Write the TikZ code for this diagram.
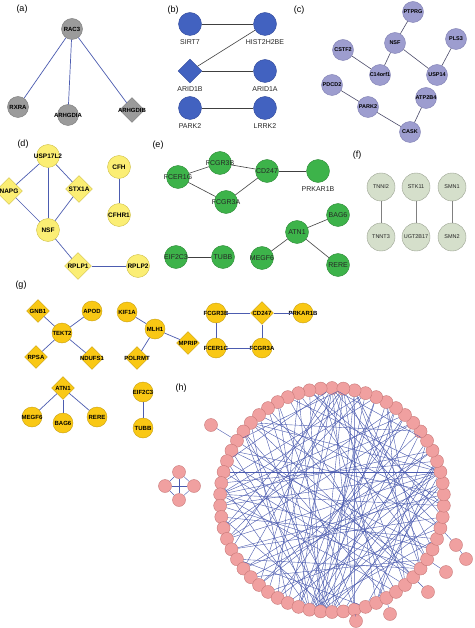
\documentclass[tikz,border=0pt]{standalone}
\usepackage{fontspec}
\setmainfont{Liberation Sans}
\usetikzlibrary{shapes.geometric}

\definecolor{agray}{HTML}{9B9B9B}
\definecolor{agrayd}{HTML}{7A7A7A}
\definecolor{bblue}{HTML}{4262C0}
\definecolor{bblued}{HTML}{30489A}
\definecolor{clav}{HTML}{9D9DCF}
\definecolor{clavd}{HTML}{7F7FB3}
\definecolor{dyel}{HTML}{FBEE74}
\definecolor{dyeld}{HTML}{CFC04A}
\definecolor{egreen}{HTML}{3DB34A}
\definecolor{egreend}{HTML}{2D8A36}
\definecolor{fsage}{HTML}{D5DFCB}
\definecolor{fsaged}{HTML}{9CA393}
\definecolor{ggold}{HTML}{F9C814}
\definecolor{ggoldd}{HTML}{C9A010}
\definecolor{hpink}{HTML}{F0A0A0}
\definecolor{hpinkd}{HTML}{C87878}
\definecolor{linkblue}{HTML}{4C5CB0}
\definecolor{linkgray}{HTML}{404040}

\begin{document}
\begin{tikzpicture}[x=1pt, y=-1pt,
    panel/.style={font=\fontsize{9}{9}\selectfont},
    boldtxt/.style={font=\bfseries\fontsize{#1}{#1}\selectfont, text=black},
    plaintxt/.style={font=\fontsize{#1}{#1}\selectfont, text=black!85},
    pa/.style={circle, draw=agrayd, fill=agray, minimum size=21pt, inner sep=0pt, label={[boldtxt=6]center:#1}},
    pad/.style={pa=#1, diamond, shape aspect=1, minimum size=25pt},
    pb/.style={circle, draw=bblued, fill=bblue, minimum size=23pt, inner sep=0pt, label={[plaintxt=7]below:#1}},
    pbd/.style={pb=#1, diamond, shape aspect=1, minimum size=24pt},
    pc/.style={circle, draw=clavd, fill=clav, minimum size=21pt, inner sep=0pt, label={[boldtxt=5.5]center:#1}},
    pd/.style={circle, draw=dyeld, fill=dyel, minimum size=23pt, inner sep=0pt, label={[boldtxt=6.5]center:#1}},
    pdd/.style={pd=#1, diamond, shape aspect=1, minimum size=27pt},
    pe/.style={circle, draw=egreend, fill=egreen, minimum size=23pt, inner sep=0pt, label={[plaintxt=7]center:#1}},
    pf/.style={circle, draw=fsaged, fill=fsage, minimum size=28pt, inner sep=0pt, label={[plaintxt=5.5]center:#1}},
    pg/.style={circle, draw=ggoldd, fill=ggold, minimum size=20pt, inner sep=0pt, label={[boldtxt=6]center:#1}},
    pgd/.style={pg=#1, diamond, shape aspect=1, minimum size=23pt},
    ph/.style={circle, draw=hpinkd, fill=hpink, minimum size=13pt, inner sep=0pt},
    blink/.style={draw=linkblue, line width=0.7pt},
    glink/.style={draw=linkgray, line width=0.6pt},
    hlink/.style={draw=linkblue, line width=0.4pt}]

    \useasboundingbox[fill=white] (0,0) rectangle (474,628);

    % (a)
    \node[panel] (lab_a) at (22,9) {(a)};
    \node[pa=RAC3] (a_rac3) at (72,29) {};
    \node[pa=RXRA] (a_rxra) at (18,107) {};
    \node[pa=ARHGDIA] (a_arhgdia) at (68,115) {};
    \node[pad=ARHGDIB] (a_arhgdib) at (132,110) {};
    \foreach \t in {a_rxra, a_arhgdia, a_arhgdib}
        \draw[blink] (a_rac3) -- (\t);

    % (b)
    \node[panel] (lab_b) at (173,10) {(b)};
    \node[pb=SIRT7] (b_sirt7) at (190,24) {};
    \node[pb=HIST2H2BE] (b_hist) at (265,24) {};
    \node[pbd=ARID1B] (b_arid1b) at (190,71) {};
    \node[pb=ARID1A] (b_arid1a) at (265,71) {};
    \node[pb=PARK2] (b_park2) at (190,108) {};
    \node[pb=LRRK2] (b_lrrk2) at (265,108) {};
    \draw[glink] (b_sirt7) -- (b_hist);
    \draw[glink] (b_hist) -- (b_arid1b);
    \draw[glink] (b_arid1b) -- (b_arid1a);
    \draw[glink] (b_park2) -- (b_lrrk2);

    % (c)
    \node[panel] (lab_c) at (299,10) {(c)};
    \node[pc=PTPRG] (c_ptprg) at (413,12) {};
    \node[pc=NSF] (c_nsf) at (395,43) {};
    \node[pc=PLS3] (c_pls3) at (456,39) {};
    \node[pc=CSTF2] (c_cstf2) at (343,50) {};
    \node[pc=C14orf1] (c_c14orf1) at (380,75) {};
    \node[pc=USP14] (c_usp14) at (437,75) {};
    \node[pc=PDCD2] (c_pdcd2) at (332,85) {};
    \node[pc=PARK2] (c_park2) at (368,107) {};
    \node[pc=ATP2B4] (c_atp2b4) at (426,98) {};
    \node[pc=CASK] (c_cask) at (410,132) {};
    \foreach \s/\t in {c_ptprg/c_nsf, c_nsf/c_c14orf1, c_nsf/c_usp14, c_usp14/c_pls3,
        c_cstf2/c_c14orf1, c_pdcd2/c_park2, c_park2/c_cask, c_cask/c_atp2b4}
        \draw[glink, draw=clavd!60!black] (\s) -- (\t);

    % (d)
    \node[panel] (lab_d) at (23,144) {(d)};
    \node[pd=USP17L2] (d_usp17l2) at (48,156) {};
    \node[pdd=NAPG] (d_napg) at (9,191) {};
    \node[pdd=STX1A] (d_stx1a) at (79,189) {};
    \node[pd=NSF] (d_nsf) at (48,230) {};
    \node[pdd=RPLP1] (d_rplp1) at (78,266) {};
    \node[pd=RPLP2] (d_rplp2) at (138,266) {};
    \node[pd=CFH] (d_cfh) at (119,167) {};
    \node[pd=CFHR1] (d_cfhr1) at (119,215) {};
    \foreach \s/\t in {d_usp17l2/d_napg, d_usp17l2/d_stx1a, d_usp17l2/d_nsf, d_napg/d_nsf,
        d_stx1a/d_nsf, d_nsf/d_rplp1, d_rplp1/d_rplp2, d_cfh/d_cfhr1}
        \draw[blink] (\s) -- (\t);

    % (e)
    \node[panel] (lab_e) at (158,145) {(e)};
    \node[pe=FCER1G] (e_fcer1g) at (178,177) {};
    \node[pe=FCGR3B] (e_fcgr3b) at (220,163) {};
    \node[pe=CD247] (e_cd247) at (267,171) {};
    \node[pe={}, label={[plaintxt=7]below:PRKAR1B}] (e_prkar1b) at (318,171) {};
    \node[pe=FCGR3A] (e_fcgr3a) at (226,202) {};
    \node[pe=ATN1] (e_atn1) at (297,232) {};
    \node[pe=BAG6] (e_bag6) at (338,215) {};
    \node[pe=MEGF6] (e_megf6) at (262,258) {};
    \node[pe=RERE] (e_rere) at (338,265) {};
    \node[pe=EIF2C3] (e_eif2c3) at (176,257) {};
    \node[pe=TUBB] (e_tubb) at (223,257) {};
    \foreach \s/\t in {e_fcer1g/e_fcgr3b, e_fcgr3b/e_cd247, e_cd247/e_prkar1b, e_fcer1g/e_fcgr3a,
        e_fcgr3a/e_cd247, e_atn1/e_bag6, e_atn1/e_megf6, e_atn1/e_rere, e_eif2c3/e_tubb}
        \draw[glink] (\s) -- (\t);

    % (f)
    \node[panel] (lab_f) at (357,155) {(f)};
    \node[pf=TNNI2] (f_tnni2) at (381,187) {};
    \node[pf=STK11] (f_stk11) at (416,187) {};
    \node[pf=SMN1] (f_smn1) at (452,187) {};
    \node[pf=TNNT3] (f_tnnt3) at (381,237) {};
    \node[pf=UGT2B17] (f_ugt2b17) at (416,237) {};
    \node[pf=SMN2] (f_smn2) at (452,237) {};
    \draw[glink, draw=gray] (f_tnni2) -- (f_tnnt3);
    \draw[glink, draw=gray] (f_stk11) -- (f_ugt2b17);
    \draw[glink, draw=gray] (f_smn1) -- (f_smn2);

    % (g)
    \node[panel] (lab_g) at (21,285) {(g)};
    \node[pgd=GNB1] (g_gnb1) at (38,311) {};
    \node[pg=APOD] (g_apod) at (92,311) {};
    \node[pg=TEKT2] (g_tekt2) at (62,333) {};
    \node[pgd=RPSA] (g_rpsa) at (36,357) {};
    \node[pgd=NDUFS1] (g_ndufs1) at (92,358) {};
    \foreach \t in {g_gnb1, g_apod, g_rpsa, g_ndufs1}
        \draw[blink] (g_tekt2) -- (\t);
    \node[pg=KIF1A] (g_kif1a) at (127,312) {};
    \node[pg=MLH1] (g_mlh1) at (155,329) {};
    \node[pgd=MPRIP] (g_mprip) at (188,343) {};
    \node[pgd=POLRMT] (g_polrmt) at (137,358) {};
    \foreach \t in {g_kif1a, g_mprip, g_polrmt}
        \draw[blink] (g_mlh1) -- (\t);
    \node[pg=FCGR3B] (g_fcgr3b) at (216,313) {};
    \node[pgd=CD247] (g_cd247) at (262,313) {};
    \node[pg=PRKAR1B] (g_prkar1b) at (303,313) {};
    \node[pg=FCER1G] (g_fcer1g) at (216,348) {};
    \node[pg=FCGR3A] (g_fcgr3a) at (262,348) {};
    \foreach \s/\t in {g_fcgr3b/g_cd247, g_cd247/g_prkar1b, g_fcgr3b/g_fcer1g,
        g_fcer1g/g_fcgr3a, g_fcgr3a/g_cd247}
        \draw[blink] (\s) -- (\t);
    \node[pgd=ATN1] (g_atn1) at (63,388) {};
    \node[pg=MEGF6] (g_megf6) at (32,417) {};
    \node[pg=BAG6] (g_bag6) at (63,423) {};
    \node[pg=RERE] (g_rere) at (97,417) {};
    \foreach \t in {g_megf6, g_bag6, g_rere}
        \draw[blink] (g_atn1) -- (\t);
    \node[pg=EIF2C3] (g_eif2c3) at (143,392) {};
    \node[pg=TUBB] (g_tubb) at (143,428) {};
    \draw[blink] (g_eif2c3) -- (g_tubb);

    % (h)
    \node[panel] (lab_h) at (181,388) {(h)};
    \foreach \k in {0,...,61}
        \node[ph] (h\k) at ({332+112*cos(90+\k*5.80645)}, {500-112*sin(90+\k*5.80645)}) {};
    \foreach \i/\j in {0/20, 0/25, 0/33, 0/38, 0/45, 0/52, 0/12, 0/28,
        61/18, 61/22, 61/27, 61/35, 61/41, 61/10, 61/30, 1/24, 1/36, 2/30, 2/44, 3/26,
        29/5, 29/9, 29/14, 29/47, 29/52, 29/55, 29/58, 29/43,
        30/3, 30/7, 30/12, 30/50, 30/54, 30/57, 30/59, 30/45,
        31/6, 31/11, 31/17, 31/48, 31/53, 31/56, 31/60,
        49/4, 49/8, 49/13, 49/19, 49/23, 49/26, 49/34, 49/16,
        15/37, 15/42, 15/46, 15/51, 15/55, 15/58, 8/27, 8/39, 8/44, 8/53,
        40/10, 40/16, 40/21, 40/57, 40/60, 5/33, 6/39, 7/46, 9/36, 11/42,
        13/38, 14/50, 16/54, 17/43, 18/56, 19/59, 20/47, 21/34, 22/51, 23/41,
        24/53, 25/44, 26/55, 27/48, 28/58, 32/9, 32/50, 35/52, 37/4, 38/57,
        39/12, 41/3, 42/60, 45/20, 46/2, 47/11, 48/22, 50/35, 51/24, 54/19,
        56/28, 59/14, 60/33}
        \draw[hlink] (h\i) -- (h\j);
    % satellites
    \node[ph] (hs_a) at (211,425) {};
    \node[ph] (hs_b) at (456,545) {};
    \node[ph] (hs_c) at (466,559) {};
    \node[ph] (hs_d) at (446,572) {};
    \node[ph] (hs_e) at (428,592) {};
    \node[ph] (hs_f) at (390,614) {};
    \node[ph] (hs_g) at (356,621) {};
    \foreach \s/\t in {h10/hs_a, h44/hs_b, hs_b/hs_c, h41/hs_d, h39/hs_e, h36/hs_f, h33/hs_g}
        \draw[hlink] (\s) -- (\t);
    % small cluster
    \node[ph] (hk_top) at (179,472) {};
    \node[ph] (hk_left) at (165,486) {};
    \node[ph] (hk_right) at (194,486) {};
    \node[ph] (hk_bot) at (179,500) {};
    \foreach \s/\t in {hk_top/hk_left, hk_top/hk_right, hk_left/hk_bot, hk_right/hk_bot,
        hk_top/hk_bot, hk_left/hk_right}
        \draw[hlink] (\s) -- (\t);
\end{tikzpicture}
\end{document}
